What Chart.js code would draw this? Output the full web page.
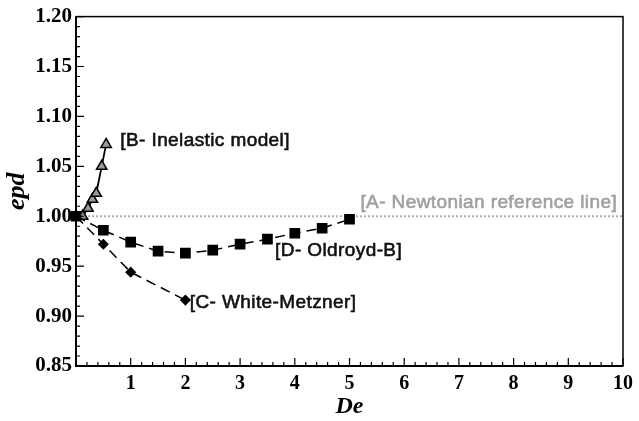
<!DOCTYPE html>
<html>
<head>
<meta charset="utf-8">
<script src="https://cdn.jsdelivr.net/npm/chart.js@4"></script>
<style>
  html, body { margin: 0; padding: 0; background: #fff; }
  #wrap { width: 639px; height: 421px; }
</style>
</head>
<body>
<div id="wrap"><canvas id="grafico"></canvas></div>
<script>
// dados
const deNewtonian = [0, 10];
const epdNewtonian = [1.0, 1.0];

const deInelastic = [0, 0.12, 0.22, 0.3, 0.37, 0.47, 0.55];
const epdInelastic = [1.0, 1.0, 1.008, 1.017, 1.023, 1.05, 1.072];

const deWhite = [0, 0.5, 1, 2];
const epdWhite = [1.0, 0.972, 0.944, 0.916];

const deOldroyd = [0, 0.5, 1, 1.5, 2, 2.5, 3, 3.5, 4, 4.5, 5];
const epdOldroyd = [1.0, 0.986, 0.974, 0.965, 0.963, 0.966, 0.972, 0.977, 0.983, 0.988, 0.997];

const xTicks = [0, 1, 2, 3, 4, 5, 6, 7, 8, 9, 10];
const yTicks = [0.85, 0.90, 0.95, 1.00, 1.05, 1.10, 1.15, 1.20];

function pontos(xs, ys) {
    return xs.map((v, i) => ({ x: v, y: ys[i] }));
}

// rótulos das curvas (âncora em unidades do gráfico)
const rotulos = [
    { texto: '[A- Newtonian reference line]', x: 5.2, y: 1.0132, cor: '#a0a0a0' },
    { texto: '[B- Inelastic model]', x: 0.81, y: 1.0754, cor: '#111' },
    { texto: '[D- Oldroyd-B]', x: 3.64, y: 0.9653, cor: '#111' },
    { texto: '[C- White-Metzner]', x: 2.08, y: 0.9137, cor: '#111' }
];

// moldura e ticks para dentro
const molduraTicks = {
    id: 'molduraTicks',
    afterDraw(chart) {
        const { ctx, chartArea: a, scales: { x, y } } = chart;
        ctx.save();
        ctx.strokeStyle = '#000';
        ctx.lineWidth = 1.5;
        ctx.strokeRect(a.left, a.top, a.right - a.left, a.bottom - a.top);
        ctx.lineWidth = 2;
        ctx.beginPath();
        ctx.moveTo(a.left, a.top);
        ctx.lineTo(a.left, a.bottom);
        ctx.lineTo(a.right, a.bottom);
        ctx.stroke();

        ctx.lineWidth = 1.2;
        ctx.beginPath();
        for (let i = 0; i <= 50; i++) {
            const px = x.getPixelForValue(i / 5);
            const len = i % 5 === 0 ? 8 : 4;
            ctx.moveTo(px, a.bottom);
            ctx.lineTo(px, a.bottom - len);
        }
        for (let i = 0; i <= 35; i++) {
            const py = y.getPixelForValue(0.85 + i * 0.01);
            const len = i % 5 === 0 ? 8 : 4;
            ctx.moveTo(a.left, py);
            ctx.lineTo(a.left + len, py);
        }
        ctx.stroke();
        ctx.restore();
    },
    afterDatasetsDraw(chart) {
        const { ctx, scales: { x, y } } = chart;
        ctx.save();
        ctx.font = '19px "Liberation Sans", Arial, sans-serif';
        ctx.letterSpacing = '0.4px';
        ctx.textAlign = 'left';
        ctx.textBaseline = 'middle';
        ctx.lineWidth = 0.6;
        rotulos.forEach(r => {
            const px = x.getPixelForValue(r.x);
            const py = y.getPixelForValue(r.y);
            ctx.fillStyle = r.cor;
            ctx.strokeStyle = r.cor;
            ctx.fillText(r.texto, px, py);
            ctx.strokeText(r.texto, px, py);
        });
        ctx.restore();
    }
};

const config = {
    type: 'scatter',
    data: {
        datasets: [
            {
                label: 'D- Oldroyd-B',
                data: pontos(deOldroyd, epdOldroyd),
                showLine: true,
                borderColor: '#000',
                borderWidth: 1.5,
                borderDash: [10, 6],
                pointStyle: 'rect',
                pointRadius: 6.5,
                pointBackgroundColor: '#000',
                pointBorderColor: '#000',
                clip: false
            },
            {
                label: 'C- White-Metzner',
                data: pontos(deWhite, epdWhite),
                showLine: true,
                borderColor: '#000',
                borderWidth: 1.5,
                borderDash: [10, 6],
                pointStyle: 'rectRot',
                pointRadius: 4.5,
                pointBackgroundColor: '#000',
                pointBorderColor: '#000',
                clip: false
            },
            {
                label: 'B- Inelastic model',
                data: pontos(deInelastic, epdInelastic),
                showLine: true,
                borderColor: '#000',
                borderWidth: 1.8,
                pointStyle: 'triangle',
                pointRadius: 6,
                pointBackgroundColor: '#999',
                pointBorderColor: '#000',
                pointBorderWidth: 1.5,
                clip: false
            },
            {
                label: 'A- Newtonian reference line',
                data: pontos(deNewtonian, epdNewtonian),
                showLine: true,
                borderColor: '#b0b0b0',
                borderWidth: 2,
                borderDash: [2, 2],
                pointRadius: 0,
                clip: false
            }
        ]
    },
    options: {
        responsive: true,
        maintainAspectRatio: false,
        animation: false,
        layout: { padding: { top: 15, right: 11, left: 0, bottom: 0 } },
        plugins: {
            legend: { display: false },
            tooltip: { enabled: false }
        },
        scales: {
            x: {
                type: 'linear',
                min: 0,
                max: 10,
                afterFit(scale) { scale.height = 55; },
                afterBuildTicks(scale) { scale.ticks = xTicks.map(v => ({ value: v })); },
                grid: { display: false, drawTicks: false },
                border: { display: false },
                ticks: {
                    padding: 6,
                    color: '#000',
                    font: { family: '"Liberation Serif", "Times New Roman", serif', size: 20, weight: 'bold' },
                    callback: v => (v === 0 ? '' : String(v))
                },
                title: {
                    display: true,
                    text: 'De',
                    color: '#000',
                    padding: { top: 0, bottom: 0 },
                    font: { family: '"Liberation Serif", "Times New Roman", serif', size: 24, weight: 'bold', style: 'italic' }
                }
            },
            y: {
                type: 'linear',
                min: 0.85,
                max: 1.2,
                afterFit(scale) { scale.width = 76; },
                afterBuildTicks(scale) { scale.ticks = yTicks.map(v => ({ value: v })); },
                grid: { display: false, drawTicks: false },
                border: { display: false },
                ticks: {
                    padding: 4,
                    color: '#000',
                    font: { family: '"Liberation Serif", "Times New Roman", serif', size: 21, weight: 'bold' },
                    callback: v => Number(v).toFixed(2)
                },
                title: {
                    display: true,
                    text: 'epd',
                    color: '#000',
                    padding: { top: 2, bottom: 0 },
                    font: { family: '"Liberation Serif", "Times New Roman", serif', size: 26, weight: 'bold', style: 'italic' }
                }
            }
        }
    },
    plugins: [molduraTicks]
};

let myChart = new Chart(document.getElementById('grafico'), config);
</script>
</body>
</html>
